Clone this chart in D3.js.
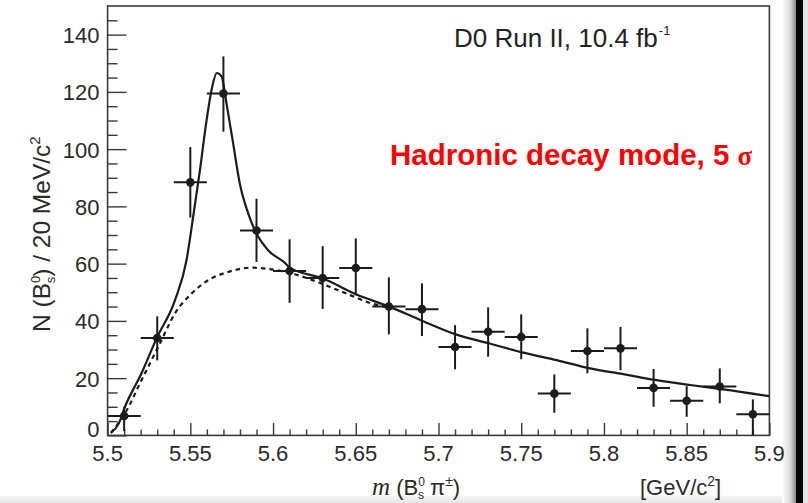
<!DOCTYPE html>
<html>
<head>
<meta charset="utf-8">
<script src="https://cdn.jsdelivr.net/npm/d3@7"></script>
<style>
  html, body { margin: 0; padding: 0; background: #fff; }
  svg { display: block; }
  text { font-family: "Liberation Sans", Arial, Helvetica, sans-serif; }
</style>
</head>
<body>
<svg id="chart" width="808" height="503"></svg>
<script>
// B_s^0 pi^+- invariant-mass spectrum, 20 MeV/c^2 bins
const binCenters = [5.51, 5.53, 5.55, 5.57, 5.59, 5.61, 5.63, 5.65, 5.67, 5.69,
                    5.71, 5.73, 5.75, 5.77, 5.79, 5.81, 5.83, 5.85, 5.87, 5.89];
const counts     = [6.8, 34.0, 88.4, 119.4, 71.6, 57.4, 55.0, 58.5, 45.0, 44.1,
                    30.9, 36.2, 34.4, 14.6, 29.5, 30.4, 16.6, 12.1, 17.1, 7.4];
const errLow     = [5.3, 7.8, 12.3, 13.3, 11.0, 11.1, 10.8, 9.6, 9.7, 9.4,
                    7.8, 8.7, 7.8, 6.7, 7.8, 7.6, 6.6, 5.6, 5.9, 7.4];
const errHigh    = [3.2, 7.6, 12.3, 13.0, 11.1, 11.1, 11.1, 10.3, 10.2, 9.0,
                    7.6, 8.5, 7.9, 6.7, 7.9, 7.5, 6.6, 5.1, 6.3, 5.2];
const halfBin = 0.01;

// Total fit (signal + background), sampled along the mass axis
const fitMass   = [5.502, 5.5068, 5.5105, 5.5205, 5.5296, 5.5407, 5.5477, 5.5517,
                   5.5558, 5.5598, 5.5632, 5.566, 5.5689, 5.5719, 5.5759, 5.5799,
                   5.585, 5.59, 5.597, 5.6071, 5.6101, 5.6303, 5.6505, 5.6706,
                   5.6907, 5.7109, 5.731, 5.7512, 5.7714, 5.7916, 5.8117, 5.8318,
                   5.852, 5.8721, 5.8999];
const fitCounts = [0.9, 4.2, 10.0, 21.7, 33.9, 47.2, 61.2, 76.3,
                   92.6, 110.0, 121.7, 126.6, 125.4, 115.9, 101.9, 88.0,
                   77.5, 70.5, 64.7, 60.3, 58.6, 54.8, 49.2, 44.9,
                   39.9, 35.2, 32.1, 28.9, 26.3, 23.4, 21.4, 19.3,
                   17.6, 16.1, 13.7];

// Background-only component
const bkgMass   = [5.502, 5.5105, 5.5205, 5.5316, 5.5407, 5.5508, 5.5608, 5.5729,
                   5.587, 5.5991, 5.6071, 5.6222, 5.6403, 5.6625, 5.6706];
const bkgCounts = [0.9, 7.7, 19.3, 32.1, 42.6, 49.6, 54.2, 57.1,
                   58.6, 58.0, 57.2, 54.6, 50.5, 45.6, 44.6];

const xMajorTicks = [5.5, 5.55, 5.6, 5.65, 5.7, 5.75, 5.8, 5.85, 5.9];
const yMajorTicks = [0, 20, 40, 60, 80, 100, 120, 140];

const svg = d3.select("#chart");
const W = 808, H = 503;
const plotLeft = 107.6, plotRight = 769.4, plotTop = 6, plotBottom = 435.4;

const x = d3.scaleLinear().domain([5.5, 5.9]).range([plotLeft, plotRight]);
const y = d3.scaleLinear().domain([0, 150]).range([plotBottom, plotTop]);

const ink = "#1c1c1c";
const axisInk = "#3a3a3a";

// window edge decoration (page shadow on the right, light strip at bottom)
const defs = svg.append("defs");
const grad = defs.append("linearGradient").attr("id", "edgeShade").attr("x1", 0).attr("x2", 1);
grad.append("stop").attr("offset", 0).attr("stop-color", "#ffffff");
grad.append("stop").attr("offset", 0.6).attr("stop-color", "#d8d8d8");
grad.append("stop").attr("offset", 1).attr("stop-color", "#8a8a8a");
const gradB = defs.append("linearGradient").attr("id", "bottomShade").attr("x1", 0).attr("x2", 0).attr("y1", 0).attr("y2", 1);
gradB.append("stop").attr("offset", 0).attr("stop-color", "#f4f4f4");
gradB.append("stop").attr("offset", 1).attr("stop-color", "#e6e6e6");

svg.append("rect").attr("x", 0).attr("y", 0).attr("width", W).attr("height", H).attr("fill", "#fff");
svg.append("rect").attr("x", 0).attr("y", 496).attr("width", 796).attr("height", 7).attr("fill", "url(#bottomShade)");
svg.append("rect").attr("x", 782).attr("y", 0).attr("width", 14).attr("height", H).attr("fill", "url(#edgeShade)");
svg.append("rect").attr("x", 796).attr("y", 0).attr("width", 7).attr("height", H).attr("fill", "#050505");
svg.append("rect").attr("x", 803).attr("y", 0).attr("width", 5).attr("height", H).attr("fill", "#e4e4e4");

// frame
svg.append("rect")
  .attr("x", plotLeft).attr("y", plotTop)
  .attr("width", plotRight - plotLeft).attr("height", plotBottom - plotTop)
  .attr("fill", "none").attr("stroke", axisInk).attr("stroke-width", 1.6);

// x axis: ticks drawn inward (upwards)
const xAxis = d3.axisTop(x)
  .tickValues(d3.range(0, 41).map(i => 5.5 + i * 0.01))
  .tickSize(0).tickFormat("");
const gx = svg.append("g").attr("transform", `translate(0,${plotBottom})`).call(xAxis);
gx.select(".domain").remove();
gx.selectAll(".tick line")
  .attr("stroke", axisInk).attr("stroke-width", 1.4)
  .attr("y2", (d, i) => (i % 5 === 0 ? -12.5 : -6));

svg.append("g").selectAll("text").data(xMajorTicks).join("text")
  .attr("x", d => x(d)).attr("y", 461)
  .attr("text-anchor", "middle")
  .attr("font-size", 22).attr("fill", "#2a2a2a")
  .text(d => d3.format("")(d));

// y axis: ticks drawn inward (to the right)
const yAxis = d3.axisRight(y)
  .tickValues(d3.range(0, 30).map(i => i * 5))
  .tickSize(0).tickFormat("");
const gy = svg.append("g").attr("transform", `translate(${plotLeft},0)`).call(yAxis);
gy.select(".domain").remove();
gy.selectAll(".tick line")
  .attr("stroke", axisInk).attr("stroke-width", 1.4)
  .attr("x2", (d, i) => (i % 4 === 0 ? 19 : 10));

// the zero label is lifted so it clears the x-axis labels
svg.append("g").selectAll("text").data(yMajorTicks).join("text")
  .attr("x", 99.5).attr("y", d => (d === 0 ? y(d) + 2 : y(d) + 8.5))
  .attr("text-anchor", "end")
  .attr("font-size", 22).attr("fill", "#2a2a2a")
  .text(d => d);

// background component (dashed)
const line = d3.line().x(d => x(d[0])).y(d => y(d[1])).curve(d3.curveMonotoneX);
svg.append("path")
  .datum(d3.zip(bkgMass, bkgCounts))
  .attr("d", line)
  .attr("fill", "none").attr("stroke", ink).attr("stroke-width", 2.2)
  .attr("stroke-dasharray", "4.5,4");

// total fit (solid)
svg.append("path")
  .datum(d3.zip(fitMass, fitCounts))
  .attr("d", line)
  .attr("fill", "none").attr("stroke", ink).attr("stroke-width", 2.2)
  .attr("stroke-linejoin", "round");

// data points with error bars
const pts = svg.append("g").selectAll("g").data(binCenters.map((m, i) => ({
  m, n: counts[i], lo: errLow[i], hi: errHigh[i]
}))).join("g");
pts.append("line")
  .attr("x1", d => x(d.m - halfBin)).attr("x2", d => x(d.m + halfBin))
  .attr("y1", d => y(d.n)).attr("y2", d => y(d.n))
  .attr("stroke", ink).attr("stroke-width", 2);
pts.append("line")
  .attr("x1", d => x(d.m)).attr("x2", d => x(d.m))
  .attr("y1", d => y(Math.max(0, d.n - d.lo))).attr("y2", d => y(d.n + d.hi))
  .attr("stroke", ink).attr("stroke-width", 2);
pts.append("circle")
  .attr("cx", d => x(d.m)).attr("cy", d => y(d.n)).attr("r", 4.3)
  .attr("fill", ink);

// experiment label with the inverse-femtobarn exponent
const lum = svg.append("text").attr("x", 454).attr("y", 47)
  .attr("font-size", 26).attr("fill", "#222");
lum.append("tspan").text("D0 Run II, 10.4 fb");
lum.append("tspan").attr("font-size", 13).attr("dx", 1).attr("dy", -12).text("-1");

// significance annotation
const ann = svg.append("text").attr("x", 390).attr("y", 165)
  .attr("fill", "#ff0000").attr("font-weight", "bold");
ann.append("tspan").attr("font-size", 29.5).text("Hadronic decay mode, 5 ");
ann.append("tspan").attr("font-size", 27)
  .attr("font-family", "'Liberation Serif', 'Times New Roman', serif")
  .text("σ");

// y-axis title
const yt = svg.append("text")
  .attr("transform", "translate(50,332) rotate(-90)")
  .attr("font-size", 24.5).attr("fill", "#2a2a2a");
yt.append("tspan").text("N (B");
yt.append("tspan").attr("font-size", 13).attr("dy", -10).text("0");
yt.append("tspan").attr("font-size", 13).attr("dx", -7.5).attr("dy", 15).text("s");
yt.append("tspan").attr("dy", -5).text(") / 20 MeV/c");
yt.append("tspan").attr("font-size", 15).attr("dy", -10).text("2");

// x-axis title
const xt = svg.append("text").attr("x", 372).attr("y", 495)
  .attr("font-size", 22).attr("fill", "#2a2a2a");
xt.append("tspan").attr("font-family", "'Liberation Serif', 'Times New Roman', serif")
  .attr("font-style", "italic").attr("font-size", 25).text("m");
xt.append("tspan").text(" (B");
xt.append("tspan").attr("font-size", 12).attr("dy", -9).text("0");
xt.append("tspan").attr("font-size", 12).attr("dx", -7).attr("dy", 13).text("s");
xt.append("tspan").attr("dy", -4).text(" π");
xt.append("tspan").attr("font-size", 14).attr("dy", -9).text("±");
xt.append("tspan").attr("dy", 9).text(")");

const ut = svg.append("text").attr("x", 640).attr("y", 495)
  .attr("font-size", 22).attr("fill", "#2a2a2a");
ut.append("tspan").text("[GeV/c");
ut.append("tspan").attr("font-size", 14).attr("dy", -9).text("2");
ut.append("tspan").attr("dy", 9).text("]");
</script>
</body>
</html>
